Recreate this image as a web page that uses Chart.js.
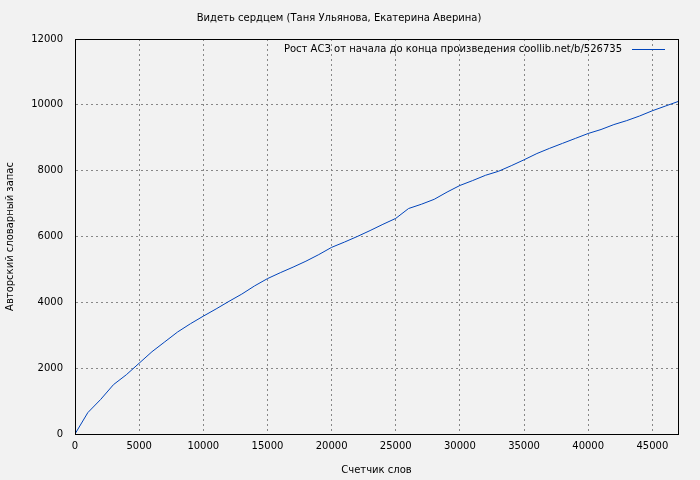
<!DOCTYPE html>
<html>
<head>
<meta charset="utf-8">
<script src="https://cdn.jsdelivr.net/npm/chart.js@4"></script>
<style>
  html, body { margin: 0; padding: 0; background: #f2f2f2; }
  #wrap { width: 700px; height: 480px; }
</style>
</head>
<body>
<div id="wrap"><canvas id="c" width="700" height="480"></canvas></div>
<script>
// word counter vs. author's vocabulary
const words = [0, 1000, 2000, 3000, 4000, 5000, 6000, 7000, 8000, 9000, 10000, 11000, 12000, 13000, 14000, 15000,
  16000, 17000, 18000, 19000, 20000, 21000, 22000, 23000, 24000, 25000, 26000, 27000, 28000, 29000, 30000,
  31000, 32000, 33000, 34000, 35000, 36000, 37000, 38000, 39000, 40000, 41000, 42000, 43000, 44000, 45000, 46000, 47000];
const vocab = [0, 650, 1050, 1500, 1800, 2150, 2500, 2800, 3100, 3350, 3580, 3800, 4030, 4250, 4500, 4720,
  4900, 5070, 5250, 5450, 5670, 5830, 6000, 6180, 6370, 6550, 6850, 6980, 7130, 7350, 7550,
  7700, 7860, 7980, 8150, 8330, 8520, 8680, 8830, 8980, 9130, 9250, 9400, 9520, 9660, 9820, 9960, 10100];
const xTicks = [0, 5000, 10000, 15000, 20000, 25000, 30000, 35000, 40000, 45000];
const yTicks = [0, 2000, 4000, 6000, 8000, 10000, 12000];
const titleText = 'Видеть сердцем (Таня Ульянова, Екатерина Аверина)';
const legendText = 'Рост АСЗ от начала до конца произведения coollib.net/b/526735';
const xTitle = 'Счетчик слов';
const yTitle = 'Авторский словарный запас';

const FONT = 'DejaVu Sans';
const lineColor = '#0044bb';

const framePlugin = {
  id: 'frameAndLegend',
  afterDraw(chart) {
    const ctx = chart.ctx, a = chart.chartArea;
    ctx.save();
    ctx.strokeStyle = '#000';
    ctx.lineWidth = 1;
    ctx.strokeRect(Math.round(a.left) + 0.5, Math.round(a.top) + 0.5,
      Math.round(a.right - a.left), Math.round(a.bottom - a.top));
    ctx.font = '10px ' + FONT;
    ctx.fillStyle = '#000';
    ctx.textAlign = 'right';
    ctx.textBaseline = 'middle';
    const y = a.top + 10;
    ctx.fillText(legendText, a.right - 56, y);
    ctx.strokeStyle = lineColor;
    ctx.beginPath();
    ctx.moveTo(a.right - 46, y + 0.5);
    ctx.lineTo(a.right - 13, y + 0.5);
    ctx.stroke();
    ctx.restore();
  }
};

new Chart(document.getElementById('c'), {
  type: 'line',
  data: {
    datasets: [{
      data: words.map((w, i) => ({ x: w, y: vocab[i] })),
      borderColor: lineColor,
      borderWidth: 1,
      pointRadius: 0,
      tension: 0
    }]
  },
  options: {
    responsive: false,
    animation: false,
    layout: { padding: { right: 22 } },
    plugins: {
      legend: { display: false },
      tooltip: { enabled: false },
      title: {
        display: true, text: titleText, color: '#000',
        font: { family: FONT, size: 10, weight: 'normal' },
        padding: { top: 12, bottom: 15 }
      }
    },
    scales: {
      x: {
        type: 'linear', min: 0, max: 47000,
        afterBuildTicks(s) { s.ticks = xTicks.map(v => ({ value: v })); },
        ticks: { color: '#000', font: { family: FONT, size: 10 }, maxRotation: 0, padding: 6,
          callback: v => String(v) },
        grid: { color: '#888', drawTicks: false },
        border: { color: '#000', dash: [2, 3] },
        title: { display: true, text: xTitle, color: '#000', font: { family: FONT, size: 10 } },
        afterFit(s) { s.height = 46; }
      },
      y: {
        min: 0, max: 12000,
        afterBuildTicks(s) { s.ticks = yTicks.map(v => ({ value: v })); },
        ticks: { color: '#000', font: { family: FONT, size: 10 }, padding: 12,
          callback: v => String(v) },
        grid: { color: '#888', drawTicks: false },
        border: { color: '#000', dash: [2, 3] },
        title: { display: true, text: yTitle, color: '#000', font: { family: FONT, size: 10 } },
        afterFit(s) { s.width = 75; }
      }
    }
  },
  plugins: [framePlugin]
});
</script>
</body>
</html>
